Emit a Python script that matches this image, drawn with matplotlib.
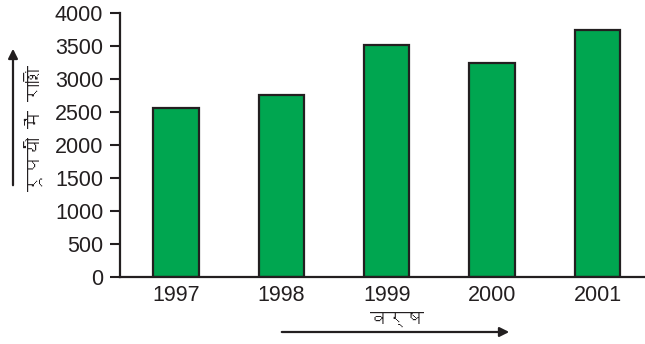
import matplotlib
matplotlib.use("Agg")
import matplotlib.pyplot as plt
from matplotlib import font_manager
from matplotlib.ft2font import FT2Font

years = ["1997", "1998", "1999", "2000", "2001"]
amounts = [2560, 2760, 3520, 3250, 3750]
y_ticks = [0, 500, 1000, 1500, 2000, 2500, 3000, 3500, 4000]
y_label = "रूपयों में राशि"
x_label = "वर्ष"

# find a font with Devanagari glyphs
deva_family = None
for f in font_manager.fontManager.ttflist:
    try:
        cm = FT2Font(f.fname).get_charmap()
        if 0x0930 in cm and 0x094D in cm:
            deva_family = f.name
            break
    except Exception:
        pass
deva_fams = ([deva_family] if deva_family else []) + ["DejaVu Sans"]

plt.rcParams['font.family'] = ['Liberation Sans', 'DejaVu Sans']
ink = "#231f20"

fig = plt.figure(figsize=(6.45, 3.44), dpi=100)
ax = fig.add_axes([0.186, 0.1957, 1 - 0.186, 0.9613 - 0.1957])

x = list(range(len(years)))
ax.bar(x, amounts, width=0.43, color="#00a650", edgecolor=ink, linewidth=1.6, zorder=2)

ax.set_xlim(-0.53, 4.45)
ax.set_ylim(0, 4000)
ax.set_yticks(y_ticks)
ax.set_xticks(x)
ax.set_xticklabels(years)
ax.tick_params(axis='y', direction='out', length=7.5, width=1.5, colors=ink, labelsize=15.5, pad=4.5)
ax.tick_params(axis='x', length=0, colors=ink, labelsize=15.5, pad=6)
for s in ['top', 'right']:
    ax.spines[s].set_visible(False)
for s in ['left', 'bottom']:
    ax.spines[s].set_linewidth(1.6)
    ax.spines[s].set_color(ink)

W, H = 645, 344
def fc(px, py):
    return (px / W, 1 - py / H)

# y label and arrow
fig.text(*fc(33, 128), y_label, rotation=90, ha='center', va='center',
         fontsize=13, color=ink, family=deva_fams)
ax.annotate("", xy=fc(13, 46), xycoords='figure fraction',
            xytext=fc(13, 188), textcoords='figure fraction',
            arrowprops=dict(arrowstyle='-|>', color=ink, lw=1.6, mutation_scale=14))

# x label and arrow
fig.text(*fc(397, 319), x_label, ha='center', va='center',
         fontsize=13, color=ink, family=deva_fams)
ax.annotate("", xy=fc(512, 332), xycoords='figure fraction',
            xytext=fc(279, 332), textcoords='figure fraction',
            arrowprops=dict(arrowstyle='-|>', color=ink, lw=1.6, mutation_scale=14))

fig.savefig("out.png", dpi=100)
